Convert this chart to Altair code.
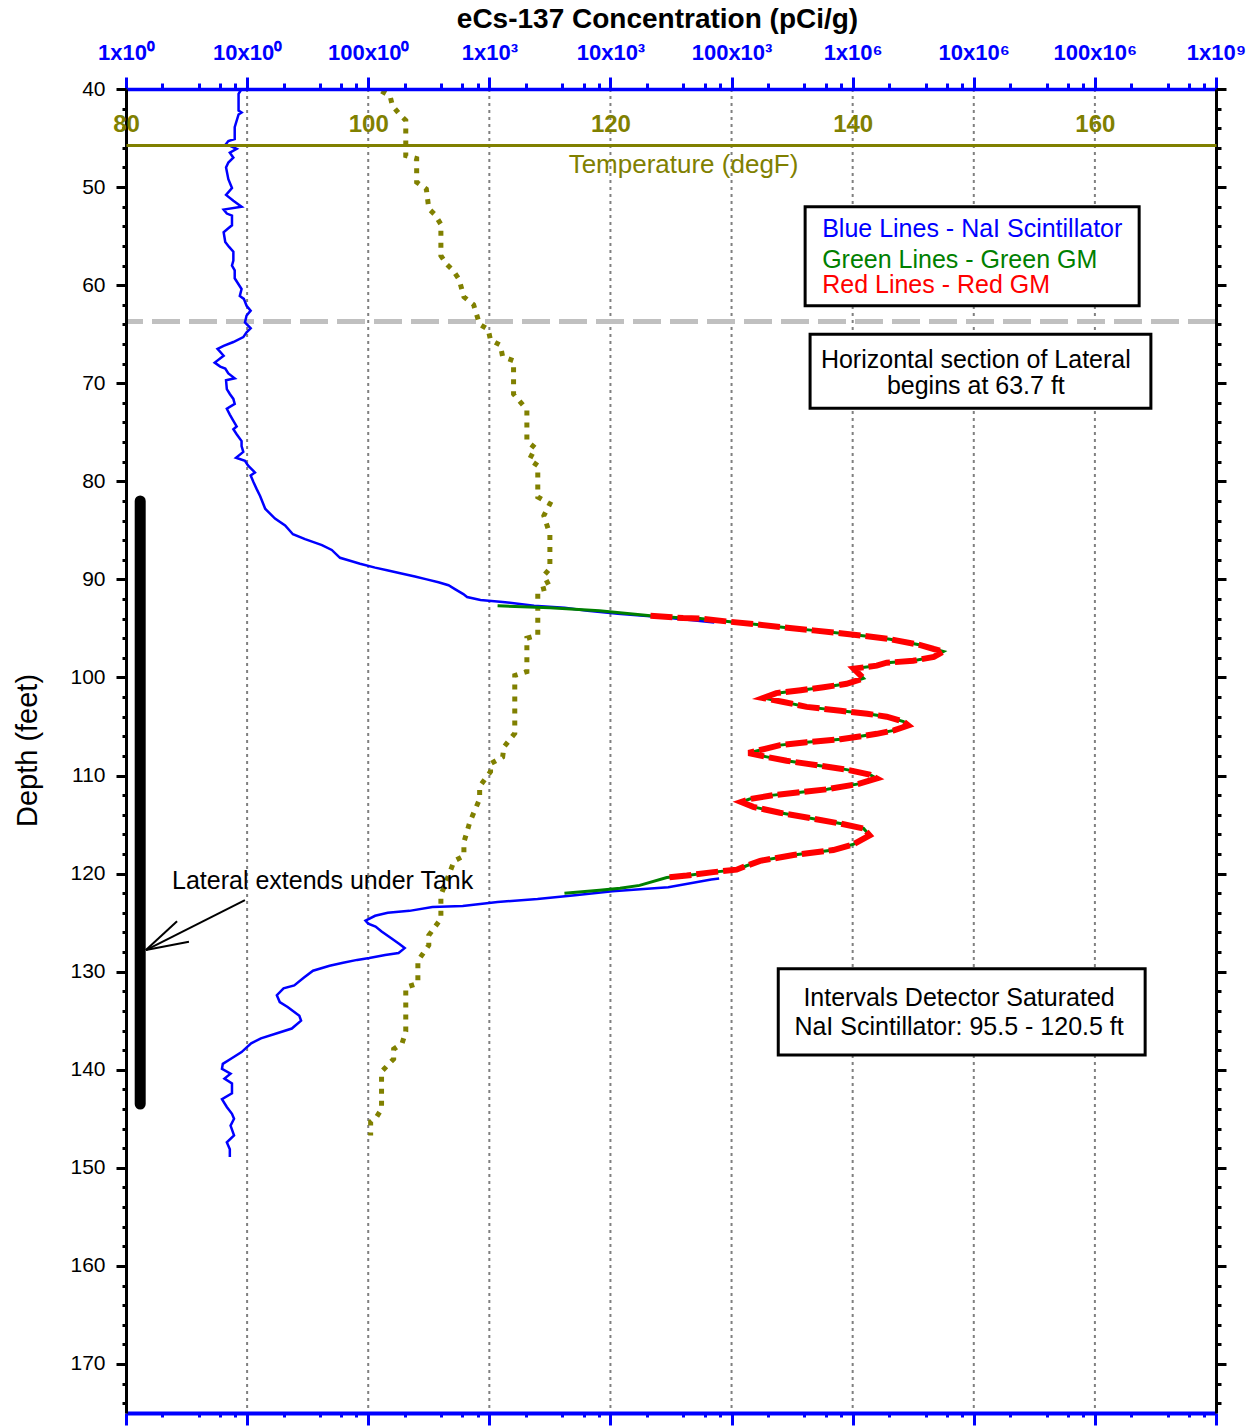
import altair as alt
import pandas as pd

# ---------------------------------------------------------------- data
# NaI scintillator, above the saturated interval (depth ft, eCs-137 pCi/g)
nai_upper_depth = [40.0, 40.5, 42.2, 42.4, 42.6, 43.9, 45.1, 45.3, 45.6, 46.1, 46.5, 47.0,
                   47.5, 48.0, 49.2, 50.1, 50.8, 51.4, 52.0, 52.3, 52.7, 52.9, 53.9, 54.2,
                   54.6, 55.6, 56.1, 56.6, 57.5, 58.0, 58.5, 59.3, 60.4, 61.1, 61.4, 62.1,
                   62.6, 63.1, 63.8, 64.4, 64.8, 65.3, 65.8, 66.2, 66.5, 67.2, 67.9, 68.3,
                   68.5, 69.0, 69.5, 69.7, 70.6, 71.1, 71.6, 72.1, 72.6, 73.2, 73.7, 74.4,
                   74.7, 75.2, 75.9, 76.4, 77.0, 77.6, 77.9, 78.4, 79.1, 79.4, 80.1, 80.8,
                   81.5, 82.8, 83.8, 84.5, 85.4, 85.9, 86.5, 87.0, 87.8, 88.1, 88.4, 88.8,
                   89.1, 89.4, 89.7, 90.0, 90.3, 90.6, 91.0, 91.5, 91.8, 92.1, 92.3, 92.7,
                   92.9, 93.2, 93.5, 93.8, 94.2, 94.4]
nai_upper_conc = [9.0, 8.5, 8.5, 9.0, 8.5, 7.9, 7.9, 7.0, 6.7, 8.2, 7.2, 7.7,
                  7.0, 6.7, 7.0, 7.5, 6.7, 7.7, 9.0, 6.4, 6.8, 7.5, 7.5, 7.0,
                  6.4, 6.6, 7.1, 7.7, 7.7, 7.5, 7.9, 7.9, 9.0, 8.7, 9.4, 9.9,
                  10.7, 9.9, 9.6, 10.7, 9.9, 9.3, 7.7, 6.4, 5.7, 6.4, 5.4, 6.0,
                  6.6, 7.0, 7.9, 6.7, 6.8, 7.2, 7.7, 7.9, 6.8, 7.2, 7.6, 8.2,
                  7.7, 8.2, 9.0, 9.0, 9.3, 8.1, 9.6, 10.2, 11.6, 10.7, 11.3, 12.0,
                  12.8, 14.1, 17.0, 20.6, 23.9, 30.1, 41.5, 50.0, 58.5, 70.8, 85.6, 114,
                  146, 188, 243, 304, 380, 460, 520, 610, 655, 845, 1290, 2340,
                  4180, 6470, 11500, 24000, 50000, 72000]

# NaI scintillator, below the saturated interval
nai_lower_depth = [120.5, 120.6, 121.4, 121.8, 122.2, 122.6, 122.9, 123.3, 123.4, 123.8,
                   124.0, 124.3, 124.8, 125.1, 125.4, 125.9, 126.6, 127.2, 127.6, 128.1,
                   128.3, 128.6, 128.8, 129.1, 129.4, 129.9, 130.6, 131.4, 131.7, 132.4,
                   133.1, 133.6, 134.5, 135.0, 135.8, 136.3, 136.8, 137.3, 138.2, 138.9,
                   139.4, 139.9, 140.4, 140.9, 141.4, 142.4, 143.0, 143.8, 144.5, 145.0,
                   145.7, 146.7, 147.4, 148.1, 148.9]
nai_lower_conc = [79000, 68000, 30000, 10400, 5100, 2500, 1170, 603, 339, 219,
                  145, 114, 95, 100, 115, 129, 155, 182, 200, 178,
                  138, 102, 81, 62, 48, 35, 29.5, 24.5, 20.0, 17.6,
                  18.6, 21.6, 27.0, 27.9, 23.4, 17.4, 13.0, 10.8, 9.0, 7.3,
                  6.3, 6.2, 7.3, 6.5, 7.5, 7.5, 6.2, 6.8, 7.5, 7.8,
                  7.3, 7.8, 6.8, 7.2, 7.2]

# Green GM / Red GM logs through the high-activity zone
gm_depth = [93.7, 93.95, 94.0, 94.3, 94.6, 94.9, 95.2, 95.5, 95.8, 96.1, 96.7, 97.1,
            97.35, 97.9, 98.3, 98.5, 98.8, 99.1, 100.1, 100.65, 101.0, 101.3, 101.6,
            102.1, 102.5, 103.0, 103.4, 103.7, 104.0, 104.5, 104.9, 105.4, 105.75,
            106.3, 106.6, 106.9, 107.7, 108.1, 108.5, 109.0, 109.4, 109.9, 110.3,
            110.85, 111.4, 111.7, 112.0, 112.4, 112.7, 113.2, 113.8, 114.4, 114.9,
            115.4, 116.1, 117.0, 117.6, 118.1, 118.7, 119.2, 119.6, 119.85, 120.2, 120.4]
gm_conc = [21400, 39800, 55000, 93300, 162000, 275000, 473000, 794000, 1.32e6, 2.04e6,
           3.63e6, 4.68e6, 5.62e6, 4.68e6, 3.16e6, 1.91e6, 1.58e6, 1.02e6, 1.23e6, 891000,
           575000, 372000, 234000, 182000, 269000, 417000, 794000, 1.32e6, 1.91e6, 2.63e6,
           2.88e6, 2.19e6, 1.58e6, 794000, 417000, 251000, 138000, 195000, 285000, 537000,
           891000, 1.38e6, 1.58e6, 1.12e6, 617000, 372000, 221000, 141000, 120000, 151000,
           251000, 473000, 794000, 1.23e6, 1.38e6, 1.02e6, 692000, 324000, 172000, 133000,
           110000, 70800, 42700, 29200]
green_lead_depth = [92.7, 92.9, 93.2, 93.5]
green_lead_conc = [1170, 3160, 8100, 14500]
green_tail_depth = [121.2, 121.5, 121.7, 122.0]
green_tail_conc = [17400, 12000, 8130, 4170]

# Borehole temperature (depth ft, degF)
temp_depth = [40.2, 40.7, 41.7, 42.6, 43.2, 46.8, 47.1, 49.5, 50.2, 52.2, 52.8, 53.8,
              57.0, 57.9, 58.5, 59.4, 61.2, 62.0, 64.0, 64.5, 65.6, 66.1, 67.3, 67.7,
              71.1, 72.7, 75.9, 76.6, 77.8, 78.4, 81.6, 82.3, 83.5, 85.4, 88.9, 89.6,
              90.8, 91.1, 95.7, 96.0, 99.4, 99.8, 105.7, 107.1, 108.1, 108.8, 109.6,
              111.1, 112.4, 114.7, 116.8, 118.2, 118.7, 122.2, 124.6, 126.3, 127.3,
              128.9, 131.2, 131.6, 136.1, 137.3, 137.9, 138.9, 140.2, 144.0, 144.8,
              145.3, 146.7]
temp_degf = [101.1, 101.8, 102.0, 102.6, 103.1, 103.1, 104.0, 104.0, 104.8, 105.0, 105.5, 106.0,
             106.0, 106.5, 107.0, 107.5, 107.9, 108.7, 109.2, 109.9, 110.1, 110.9, 111.1, 112.0,
             112.0, 113.1, 113.1, 113.8, 113.3, 114.0, 114.0, 115.0, 114.5, 115.0, 115.0, 114.5,
             115.0, 114.0, 114.0, 113.1, 113.1, 112.1, 112.1, 111.2, 111.1, 110.1, 110.1,
             109.2, 109.2, 108.4, 107.9, 107.9, 107.1, 106.0, 106.0, 105.0, 105.0,
             104.1, 104.1, 103.1, 103.1, 102.8, 102.1, 102.1, 101.1, 101.1, 100.7,
             100.2, 100.2]

# Axis ticks and labels
conc_decade_labels = ["1x10⁰", "10x10⁰", "100x10⁰", "1x10³", "10x10³", "100x10³",
                      "1x10⁶", "10x10⁶", "100x10⁶", "1x10⁹"]
conc_ticks = [m * 10 ** k for k in range(9) for m in (1, 2, 4, 6, 8)] + [10 ** 9]
grid_decades = [10 ** k for k in range(1, 9)]
temp_ticks = [80, 100, 120, 140, 160]
depth_ticks = list(range(40, 176, 2))

# Annotations
lateral_start_depth = [63.7]
lateral_bar = {"x": [1.31], "top": [82.0], "bottom": [143.5]}
arrow = {"x": [1.46, 1.46, 1.46], "y": [127.8, 127.8, 127.8],
         "x2": [9.6, 2.64, 3.31], "y2": [122.7, 124.85, 126.95]}
arrow_text = ["Lateral extends under Tank"]
arrow_text_pos = {"x": [2.40], "y": [120.75]}

boxes = {"x": [4.05e5, 4.45e5, 2.43e5], "x2": [2.32e8, 2.9e8, 2.6e8],
         "y": [52.0, 65.0, 129.7], "y2": [62.1, 72.55, 138.5]}
legend_lines = ["Blue Lines - NaI Scintillator", "Green Lines - Green GM", "Red Lines - Red GM"]
legend_colors = ["#0000ff", "#008000", "#ff0000"]
legend_depth = [54.3, 57.4, 60.0]
legend_x = 5.6e5
note_lines = ["Horizontal section of Lateral", "begins at 63.7 ft",
              "Intervals Detector Saturated", "NaI Scintillator: 95.5 - 120.5 ft"]
note_x = [1.04e7, 1.04e7, 7.56e6, 7.56e6]
note_depth = [67.6, 70.3, 132.7, 135.6]

# ---------------------------------------------------------------- styling
BLUE, GREEN, RED, OLIVE = "#0000ff", "#008000", "#ff0000", "#808000"
FONT = "Liberation Sans"
TEXT_SIZE = 25


def conc_x(field, axis=None):
    return alt.X(field, type="quantitative", axis=axis,
                 scale=alt.Scale(type="log", domain=[1, 1e9], nice=False))


def depth_y(field, axis=None):
    return alt.Y(field, type="quantitative", axis=axis,
                 scale=alt.Scale(domain=[40, 175], reverse=True, nice=False, zero=False))


def profile(depths, values, seg=0):
    return pd.DataFrame({"depth": depths, "value": values, "seg": seg,
                         "idx": list(range(len(depths)))})


decade_test = "abs(log(datum.value)/LN10 - round(log(datum.value)/LN10)) < 0.000001"
label_list = "[" + ",".join("'%s'" % s for s in conc_decade_labels) + "]"
conc_label_expr = f"({decade_test}) ? {label_list}[round(log(datum.value)/LN10)] : ''"

top_axis = alt.Axis(
    orient="top", values=conc_ticks, labelExpr=conc_label_expr,
    tickSize={"condition": {"test": decade_test, "value": 12}, "value": 6},
    tickColor=BLUE, tickWidth=3, domainColor=BLUE, domainWidth=3.5,
    labelColor=BLUE, labelFont=FONT, labelFontSize=22, labelFontWeight="bold",
    labelPadding=13, labelFlush=False, labelOverlap=False, grid=False,
    title="eCs-137 Concentration (pCi/g)", titleFont=FONT, titleFontSize=28,
    titleFontWeight="bold", titleColor="black", titleX=531, titleAlign="center",
    titleY=-70, titleBaseline="middle", zindex=1)

bottom_axis = alt.Axis(
    orient="bottom", values=conc_ticks, labels=False,
    tickSize={"condition": {"test": decade_test, "value": 12}, "value": 4},
    tickColor=BLUE, tickWidth=3, domainColor=BLUE, domainWidth=4,
    grid=False, title=None, zindex=1)

temp_axis = alt.Axis(
    orient="top", offset=-56, values=temp_ticks, ticks=False, tickSize=0,
    domainColor=OLIVE, domainWidth=3, labelColor=OLIVE, labelFont=FONT,
    labelFontSize=24, labelFontWeight="bold", labelPadding=9, labelFlush=False,
    labelOverlap=False, grid=False, title="Temperature (degF)", titleFont=FONT,
    titleColor=OLIVE, titleFontSize=26, titleFontWeight="normal", titleX=557,
    titleAlign="center", titleY=19, titleBaseline="middle", zindex=2)

left_axis = alt.Axis(
    orient="left", values=depth_ticks,
    labelExpr="datum.value % 10 === 0 ? datum.value : ''",
    tickSize={"condition": {"test": "datum.value % 10 === 0", "value": 10}, "value": 4},
    tickColor="black", tickWidth=3, domainColor="black", domainWidth=3,
    labelColor="black", labelFont=FONT, labelFontSize=21, labelPadding=11,
    labelFlush=False, labelOverlap=False, grid=False,
    title="Depth (feet)", titleFont=FONT, titleFontSize=29, titleFontWeight="normal",
    titleColor="black", titleAngle=270, titleX=-99, titleY=661,
    titleBaseline="middle", titleAlign="center", zindex=1)

right_axis = alt.Axis(
    orient="right", values=depth_ticks, labels=False,
    tickSize={"condition": {"test": "datum.value % 10 === 0", "value": 10}, "value": 5},
    tickColor="black", tickWidth=3, domainColor="black", domainWidth=3,
    grid=False, title=None, zindex=1)

# ---------------------------------------------------------------- layers
grid = alt.Chart(pd.DataFrame({"decade": grid_decades})).mark_rule(
    color="#808080", strokeWidth=2, strokeDash=[3, 4]
).encode(x=conc_x("decade"))

lateral_line = alt.Chart(pd.DataFrame({"depth": lateral_start_depth})).mark_rule(
    color="#c0c0c0", strokeWidth=5, strokeDash=[28, 9]
).encode(y=depth_y("depth"))

temp_df = profile(temp_depth, temp_degf)
temperature = alt.Chart(temp_df).mark_line(
    color=OLIVE, strokeWidth=5, strokeDash=[5, 7]
).encode(
    x=alt.X("value", type="quantitative", axis=temp_axis,
            scale=alt.Scale(domain=[80, 170], nice=False, zero=False)),
    y=depth_y("depth", axis=right_axis),
    order="idx:Q")

nai_df = pd.concat([profile(nai_upper_depth, nai_upper_conc, 0),
                    profile(nai_lower_depth, nai_lower_conc, 1)], ignore_index=True)
nai = alt.Chart(nai_df).mark_line(color=BLUE, strokeWidth=2.5).encode(
    x=conc_x("value", axis=top_axis),
    y=depth_y("depth", axis=left_axis),
    detail="seg:N", order="idx:Q")

green_df = profile(green_lead_depth + gm_depth + green_tail_depth,
                   green_lead_conc + gm_conc + green_tail_conc)
green = alt.Chart(green_df).mark_line(color=GREEN, strokeWidth=3).encode(
    x=conc_x("value", axis=bottom_axis), y=depth_y("depth"), order="idx:Q")

red_df = profile(gm_depth, gm_conc)
red = alt.Chart(red_df).mark_line(color=RED, strokeWidth=6, strokeDash=[22, 5]).encode(
    x=conc_x("value"), y=depth_y("depth"), order="idx:Q")

bar = alt.Chart(pd.DataFrame(lateral_bar)).mark_rule(
    color="black", strokeWidth=11, strokeCap="round"
).encode(x=conc_x("x"), y=depth_y("top"), y2="bottom")

arrow_lines = alt.Chart(pd.DataFrame(arrow)).mark_rule(color="black", strokeWidth=2).encode(
    x=conc_x("x"), x2="x2", y=depth_y("y"), y2="y2")

arrow_label = alt.Chart(pd.DataFrame({"text": arrow_text, **arrow_text_pos})).mark_text(
    align="left", baseline="middle", font=FONT, fontSize=TEXT_SIZE, color="black"
).encode(x=conc_x("x"), y=depth_y("y"), text="text:N")

box_rects = alt.Chart(pd.DataFrame(boxes)).mark_rect(
    fill="white", stroke="black", strokeWidth=3
).encode(x=conc_x("x"), x2="x2", y=depth_y("y"), y2="y2")

legend_text = alt.Chart(pd.DataFrame({"text": legend_lines, "color": legend_colors,
                                      "depth": legend_depth,
                                      "x": [legend_x] * len(legend_lines)})).mark_text(
    align="left", baseline="middle", font=FONT, fontSize=TEXT_SIZE
).encode(x=conc_x("x"), y=depth_y("depth"), text="text:N",
         color=alt.Color("color:N", scale=None))

note_text = alt.Chart(pd.DataFrame({"text": note_lines, "x": note_x,
                                    "depth": note_depth})).mark_text(
    align="center", baseline="middle", font=FONT, fontSize=TEXT_SIZE, color="black"
).encode(x=conc_x("x"), y=depth_y("depth"), text="text:N")

chart = alt.layer(
    grid, lateral_line, temperature, nai, green, red, bar, arrow_lines,
    arrow_label, box_rects, legend_text, note_text
).resolve_scale(
    x="independent"
).resolve_axis(
    x="independent", y="independent"
).properties(
    width=1090, height=1324,
    autosize=alt.AutoSizeParams(type="none"),
    padding={"left": 126, "top": 89, "right": 41, "bottom": 14},
).configure_view(stroke=None).configure(font=FONT)

chart.save("out.html", embed_options={"renderer": "svg", "actions": False})
